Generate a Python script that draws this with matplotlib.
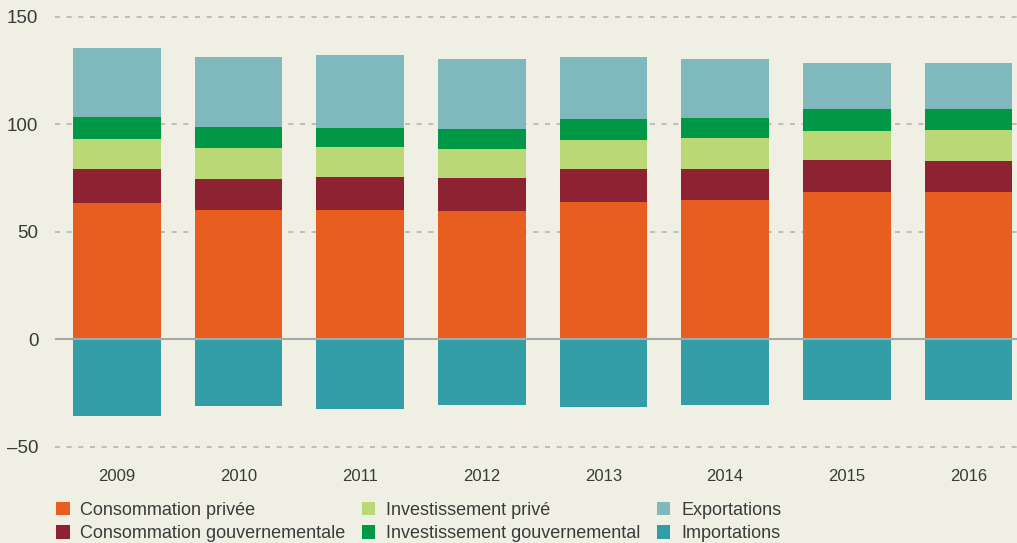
import matplotlib
matplotlib.use("Agg")
import matplotlib.pyplot as plt
import numpy as np

years = ["2009", "2010", "2011", "2012", "2013", "2014", "2015", "2016"]
conso_privee = [63.4, 60.1, 60.1, 59.7, 63.9, 64.8, 68.5, 68.5]
conso_gouv = [15.8, 14.5, 15.4, 15.3, 15.3, 14.4, 14.9, 14.4]
invest_prive = [14.0, 14.4, 13.9, 13.5, 13.5, 14.4, 13.5, 14.4]
invest_gouv = [10.2, 9.7, 8.9, 9.3, 9.7, 9.3, 10.2, 9.8]
exportations = [32.1, 32.6, 33.9, 32.6, 28.9, 27.5, 21.4, 21.4]
importations = [-35.7, -31.0, -32.4, -30.6, -31.5, -30.6, -28.2, -28.2]

labels = ["Consommation privée", "Consommation gouvernementale",
          "Investissement privé", "Investissement gouvernemental",
          "Exportations", "Importations"]
colors = ["#E75E20", "#8C2232", "#BBD876", "#009846", "#7FB9BD", "#339EA5"]

bg = "#EFF0E3"
plt.rcParams['font.family'] = ['Liberation Sans Narrow', 'Liberation Sans', 'DejaVu Sans']

W, H = 1017, 543
fig = plt.figure(figsize=(W / 100, H / 100), dpi=100, facecolor=bg)
ax = fig.add_axes([55 / W, (H - 455) / H, 1 - 55 / W, 450 / H])
ax.set_facecolor(bg)

x = np.arange(len(years))
width = 0.72
pos_series = [conso_privee, conso_gouv, invest_prive, invest_gouv, exportations]
bottom = np.zeros(len(years))
handles = []
for vals, lab, col in zip(pos_series, labels[:5], colors[:5]):
    h = ax.bar(x, vals, width, bottom=bottom, color=col, label=lab, zorder=2, linewidth=0)
    handles.append(h)
    bottom = bottom + np.array(vals)
h = ax.bar(x, importations, width, color=colors[5], label=labels[5], zorder=2, linewidth=0)
handles.append(h)

ax.set_xlim(-0.51, 7.40)
ax.set_ylim(-53.8, 155.5)
ax.set_yticks([-50, 0, 50, 100, 150])
ax.set_yticklabels(["\u201350", "0", "50", "100", "150"])
for yv in [-50, 50, 100, 150]:
    ax.axhline(yv, color="#B4B4B4", linestyle=(0, (3, 4)), linewidth=1.2, zorder=1)
ax.axhline(0, color="#A8A8A8", linewidth=1.5, zorder=3)

for s in ax.spines.values():
    s.set_visible(False)
ax.tick_params(axis="y", length=0, pad=12, labelsize=13.5, labelcolor="#3A3A3A")
ax.tick_params(axis="x", length=0, pad=10, labelsize=12, labelcolor="#3A3A3A")
ax.set_xticks(x)
ax.set_xticklabels(years)

leg = fig.legend(handles=handles, labels=labels, ncol=3, loc="upper left",
                 bbox_to_anchor=(56 / W, (H - 502) / H), frameon=False,
                 fontsize=13, handlelength=0.75, handleheight=0.75,
                 handletextpad=0.6, columnspacing=0.9, labelspacing=0.35,
                 borderaxespad=0, borderpad=0, labelcolor="#3A3A3A")

fig.savefig("out.png", dpi=100, facecolor=bg)
